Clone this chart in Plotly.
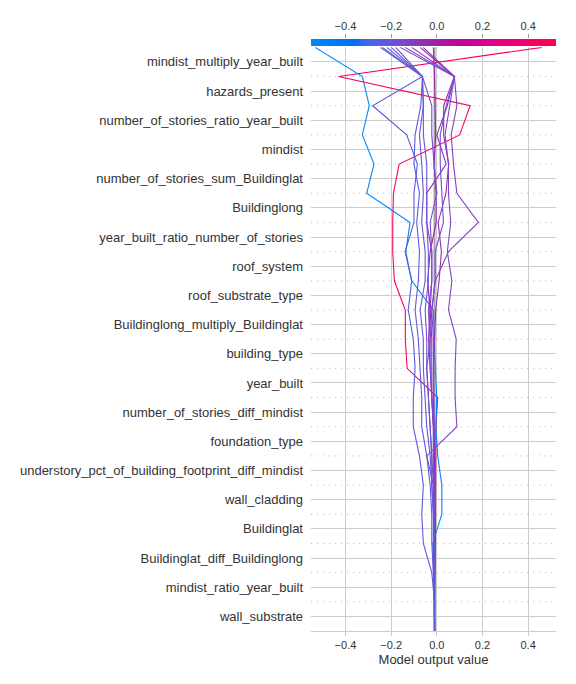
import plotly.graph_objects as go
from plotly.colors import sample_colorscale

# Features from bottom (level 0) to top
features = [
    "wall_substrate",
    "mindist_ratio_year_built",
    "Buildinglat_diff_Buildinglong",
    "Buildinglat",
    "wall_cladding",
    "understory_pct_of_building_footprint_diff_mindist",
    "foundation_type",
    "number_of_stories_diff_mindist",
    "year_built",
    "building_type",
    "Buildinglong_multiply_Buildinglat",
    "roof_substrate_type",
    "roof_system",
    "year_built_ratio_number_of_stories",
    "Buildinglong",
    "number_of_stories_sum_Buildinglat",
    "mindist",
    "number_of_stories_ratio_year_built",
    "hazards_present",
    "mindist_multiply_year_built",
]

base_value = -0.01
x_range = [-0.551, 0.522]
x_ticks = [-0.4, -0.2, 0.0, 0.2, 0.4]
x_tick_labels = ["\u22120.4", "\u22120.2", "0.0", "0.2", "0.4"]

# Cumulative model output at each level (bottom -> top)
line_red = [-0.01, -0.01, -0.008, -0.006, -0.005, -0.004, -0.004, -0.004, 0.004, -0.13, -0.138,
            -0.138, -0.186, -0.193, -0.193, -0.19, -0.165, 0.10, 0.146, -0.43, 0.46]
line_blue = [-0.01, -0.01, -0.012, -0.018, 0.022, 0.022, 0.004, -0.004, 0.0, -0.007, -0.01,
             -0.015, -0.11, -0.136, -0.117, -0.307, -0.275, -0.326, -0.296, -0.326, -0.533]
line_p1 = [-0.01, -0.01, -0.022, -0.059, -0.066, -0.059, -0.076, -0.103, -0.103, -0.095, -0.103,
           -0.125, -0.11, -0.139, -0.10, -0.10, -0.085, -0.132, -0.281, -0.063, -0.248]
line_p2 = [-0.01, -0.01, -0.015, -0.022, -0.022, -0.029, -0.044, -0.066, -0.066, -0.073, -0.081,
           -0.095, -0.081, -0.076, -0.088, -0.076, -0.10, -0.095, -0.07, -0.063, -0.238]
line_p3 = [-0.01, -0.01, -0.015, -0.015, -0.015, -0.022, -0.029, -0.044, -0.051, -0.059, -0.059,
           -0.073, -0.051, -0.051, -0.066, -0.059, -0.066, -0.076, -0.059, -0.063, -0.219]
line_p4 = [-0.01, -0.01, -0.01, -0.012, -0.012, -0.015, -0.022, -0.029, -0.037, -0.044, -0.044,
           -0.051, -0.037, -0.037, -0.044, -0.044, -0.044, -0.059, -0.059, -0.063, -0.20]
line_p5 = [-0.01, -0.01, -0.01, -0.01, -0.01, -0.012, -0.015, -0.015, -0.022, -0.029, -0.029,
           -0.037, -0.022, -0.022, -0.029, 0.0, -0.012, -0.022, -0.022, -0.063, -0.18]
line_p6 = [-0.01, -0.01, -0.01, -0.01, -0.01, -0.008, -0.007, -0.012, -0.012, -0.015, -0.015,
           -0.022, -0.007, -0.007, 0.029, 0.022, 0.015, 0.015, 0.041, 0.077, -0.161]
line_p7 = [-0.01, -0.01, -0.01, -0.01, -0.01, -0.015, -0.044, 0.088, 0.08, 0.08, 0.085,
           0.051, 0.066, 0.046, 0.061, 0.051, 0.051, 0.036, 0.058, 0.077, -0.139]
line_p8 = [-0.01, -0.01, -0.01, -0.012, -0.015, -0.022, -0.022, -0.029, -0.037, -0.044, -0.029,
           -0.022, -0.007, 0.051, 0.182, 0.088, 0.073, 0.063, 0.088, 0.077, -0.11]
line_p9 = [-0.01, -0.01, -0.01, -0.01, -0.012, -0.012, -0.015, -0.015, -0.022, -0.022, -0.022,
           -0.029, -0.022, -0.022, -0.044, -0.044, 0.041, 0.0, 0.046, 0.077, -0.073]
line_p10 = [-0.01, -0.01, -0.01, -0.01, -0.01, -0.01, -0.01, -0.015, -0.022, -0.029, -0.036,
            -0.03, -0.04, -0.029, -0.003, -0.003, -0.012, -0.005, -0.007, -0.01, -0.015]
line_p11 = [-0.01, -0.01, -0.01, -0.01, -0.01, -0.01, -0.012, -0.012, -0.015, -0.015, -0.01,
            -0.005, 0.01, 0.02, 0.006, 0.04, 0.052, 0.03, 0.03, 0.077, -0.06]

all_lines = [line_red, line_blue, line_p10, line_p11, line_p9, line_p8, line_p7, line_p6,
             line_p5, line_p4, line_p3, line_p2, line_p1]

# SHAP red_blue colormap (approximate)
red_blue = [
    [0.0, "rgb(0,138,251)"],
    [0.125, "rgb(0,120,243)"],
    [0.18, "rgb(0,112,237)"],
    [0.2, "rgb(36,107,235)"],
    [0.25, "rgb(75,99,227)"],
    [0.375, "rgb(125,73,203)"],
    [0.5, "rgb(156,34,172)"],
    [0.625, "rgb(194,0,156)"],
    [0.75, "rgb(224,0,134)"],
    [0.875, "rgb(245,0,109)"],
    [1.0, "rgb(255,0,81)"],
]

levels = list(range(len(features) + 1))
span = x_range[1] - x_range[0]

fig = go.Figure()

for vals in all_lines:
    t = min(max((vals[-1] - x_range[0]) / span, 0), 1)
    col = sample_colorscale(red_blue, [t])[0]
    fig.add_trace(go.Scatter(x=vals, y=levels, mode="lines",
                             line=dict(color=col, width=1.1),
                             showlegend=False, hoverinfo="skip"))

# Colorbar strip at top
n = 300
grad = [x_range[0] + span * i / (n - 1) for i in range(n)]
fig.add_trace(go.Heatmap(z=[grad], x=grad, y=[0], xaxis="x2", yaxis="y2",
                         colorscale=red_blue, zmin=x_range[0], zmax=x_range[1],
                         showscale=False, hoverinfo="skip"))

shapes = []
for k in range(1, len(features)):
    shapes.append(dict(type="line", xref="paper", x0=0, x1=1, yref="y", y0=k, y1=k,
                       layer="below", line=dict(color="#bbbbbb", width=1, dash="1px,5px")))
shapes.append(dict(type="line", xref="x", x0=base_value, x1=base_value, yref="y",
                   y0=0, y1=len(features), layer="below",
                   line=dict(color="#a6a6a6", width=2)))

fig.update_layout(
    width=576, height=684,
    margin=dict(l=303, r=28, t=29, b=61),
    paper_bgcolor="white", plot_bgcolor="white",
    font=dict(family="Liberation Sans, Arial, sans-serif", color="#333333"),
    shapes=shapes,
    xaxis=dict(domain=[0, 1], range=x_range, anchor="y",
               tickvals=x_ticks, ticktext=x_tick_labels,
               showgrid=True, gridcolor="#cccccc", gridwidth=1, zeroline=False,
               showline=True, linecolor="#cccccc", linewidth=1,
               ticks="outside", ticklen=4, tickcolor="#cccccc",
               tickfont=dict(size=11, color="#333333"),
               title=dict(text="Model output value", font=dict(size=13, color="#333333"),
                          standoff=4)),
    yaxis=dict(domain=[0, 0.9859], range=[0, len(features)], anchor="x",
               tickvals=[k + 0.5 for k in range(len(features))], ticktext=features,
               showgrid=True, gridcolor="#cccccc", gridwidth=1, zeroline=False,
               showline=False, ticks="", ticklabelstandoff=7,
               tickfont=dict(size=13, color="#333333")),
    xaxis2=dict(domain=[0, 1], range=x_range, anchor="y2", side="top",
                tickvals=x_ticks, ticktext=x_tick_labels,
                showgrid=False, zeroline=False, showline=False,
                ticks="outside", ticklen=4, tickcolor="#999999",
                tickfont=dict(size=11, color="#333333")),
    yaxis2=dict(domain=[0.9882, 1.0], range=[-0.5, 0.5], visible=False, anchor="x2"),
)

fig.write_html("out.html")
